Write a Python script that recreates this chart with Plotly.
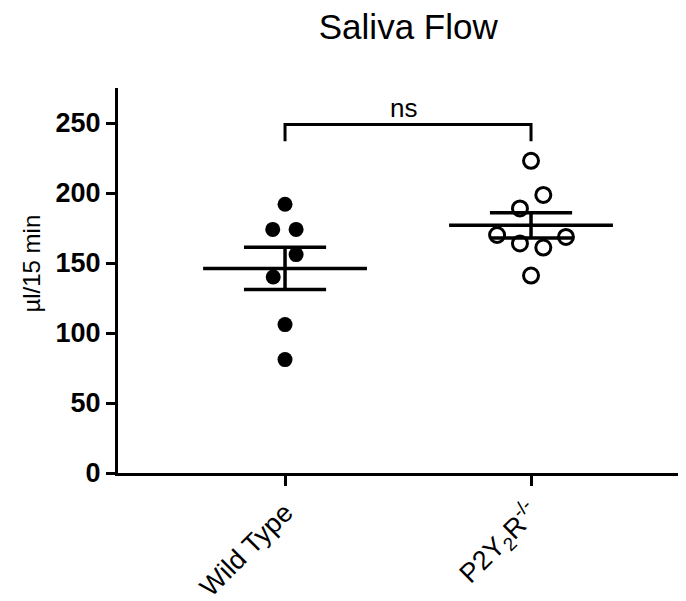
import numpy as np
import plotly.graph_objects as go

# ---- data ----
categories = ["Wild Type", "P2Y<sub>2</sub>R<sup>-/-</sup>"]
wt_values = [192, 174, 174, 156, 140, 106, 81]
ko_values = [223, 198.6, 189, 170, 164, 161, 168.6, 141]
wt_jitter = [0, -0.05, 0.045, 0.045, -0.048, 0, 0]
ko_jitter = [0, 0.05, -0.045, -0.138, -0.045, 0.05, 0.142, 0]
y_ticks = [0, 50, 100, 150, 200, 250]
sig_label = "ns"
title_text = "Saliva Flow"
y_title = "µl/15 min"

FONT = "Liberation Sans, Arial, sans-serif"

fig = go.Figure()

fig.add_trace(go.Scatter(
    x=[0 + j for j in wt_jitter], y=wt_values, mode="markers",
    marker=dict(symbol="circle", size=15, color="black", line=dict(width=0)),
    showlegend=False, hoverinfo="y"))
fig.add_trace(go.Scatter(
    x=[1 + j for j in ko_jitter], y=ko_values, mode="markers",
    marker=dict(symbol="circle-open", size=15, color="black", line=dict(width=3, color="black")),
    showlegend=False, hoverinfo="y"))

# mean +/- SEM
for i, vals in enumerate([wt_values, ko_values]):
    arr = np.array(vals, dtype=float)
    m = arr.mean()
    sem = arr.std(ddof=1) / np.sqrt(len(arr))
    lw = 3.5
    fig.add_shape(type="line", x0=i - 0.333, x1=i + 0.333, y0=m, y1=m,
                  line=dict(color="black", width=lw))
    for v in (m - sem, m + sem):
        fig.add_shape(type="line", x0=i - 0.167, x1=i + 0.167, y0=v, y1=v,
                      line=dict(color="black", width=lw))
    fig.add_shape(type="line", x0=i, x1=i, y0=m - sem, y1=m + sem,
                  line=dict(color="black", width=lw))

# significance bracket
fig.add_shape(type="path", path="M 0,237 L 0,249 L 1,249 L 1,237",
              line=dict(color="black", width=3))
fig.add_annotation(x=0.48, y=261, text=sig_label, showarrow=False,
                   font=dict(family=FONT, size=26, color="black"))

fig.add_annotation(xref="paper", yref="paper", x=-0.152, y=0.543, text=y_title,
                   textangle=-90, showarrow=False, xanchor="center", yanchor="middle",
                   font=dict(family=FONT, size=24, color="black"))

fig.update_layout(
    width=686, height=601,
    margin=dict(l=110, r=8, t=80, b=136),
    plot_bgcolor="white", paper_bgcolor="white",
    title=dict(text=title_text, x=0.511, xanchor="center", xref="paper",
               y=1 - 19 / 601, yanchor="middle", yref="container",
               font=dict(family=FONT, size=35, color="black")),
    xaxis=dict(range=[-0.679, 1.63], tickvals=[0, 1], ticktext=categories,
               tickangle=-45, showline=True, linecolor="black", linewidth=3,
               ticks="outside", ticklen=10, tickwidth=3, tickcolor="black",
               showgrid=False, zeroline=False,
               tickfont=dict(family=FONT, size=27, color="black")),
    yaxis=dict(range=[0, 275], tickvals=y_ticks, showline=True, linecolor="black",
               linewidth=3, ticks="outside", ticklen=9, tickwidth=3,
               tickcolor="black", showgrid=False, zeroline=False,
               tickfont=dict(family=FONT, size=27, color="black", weight="bold")),
)

fig.write_html("out.html")
